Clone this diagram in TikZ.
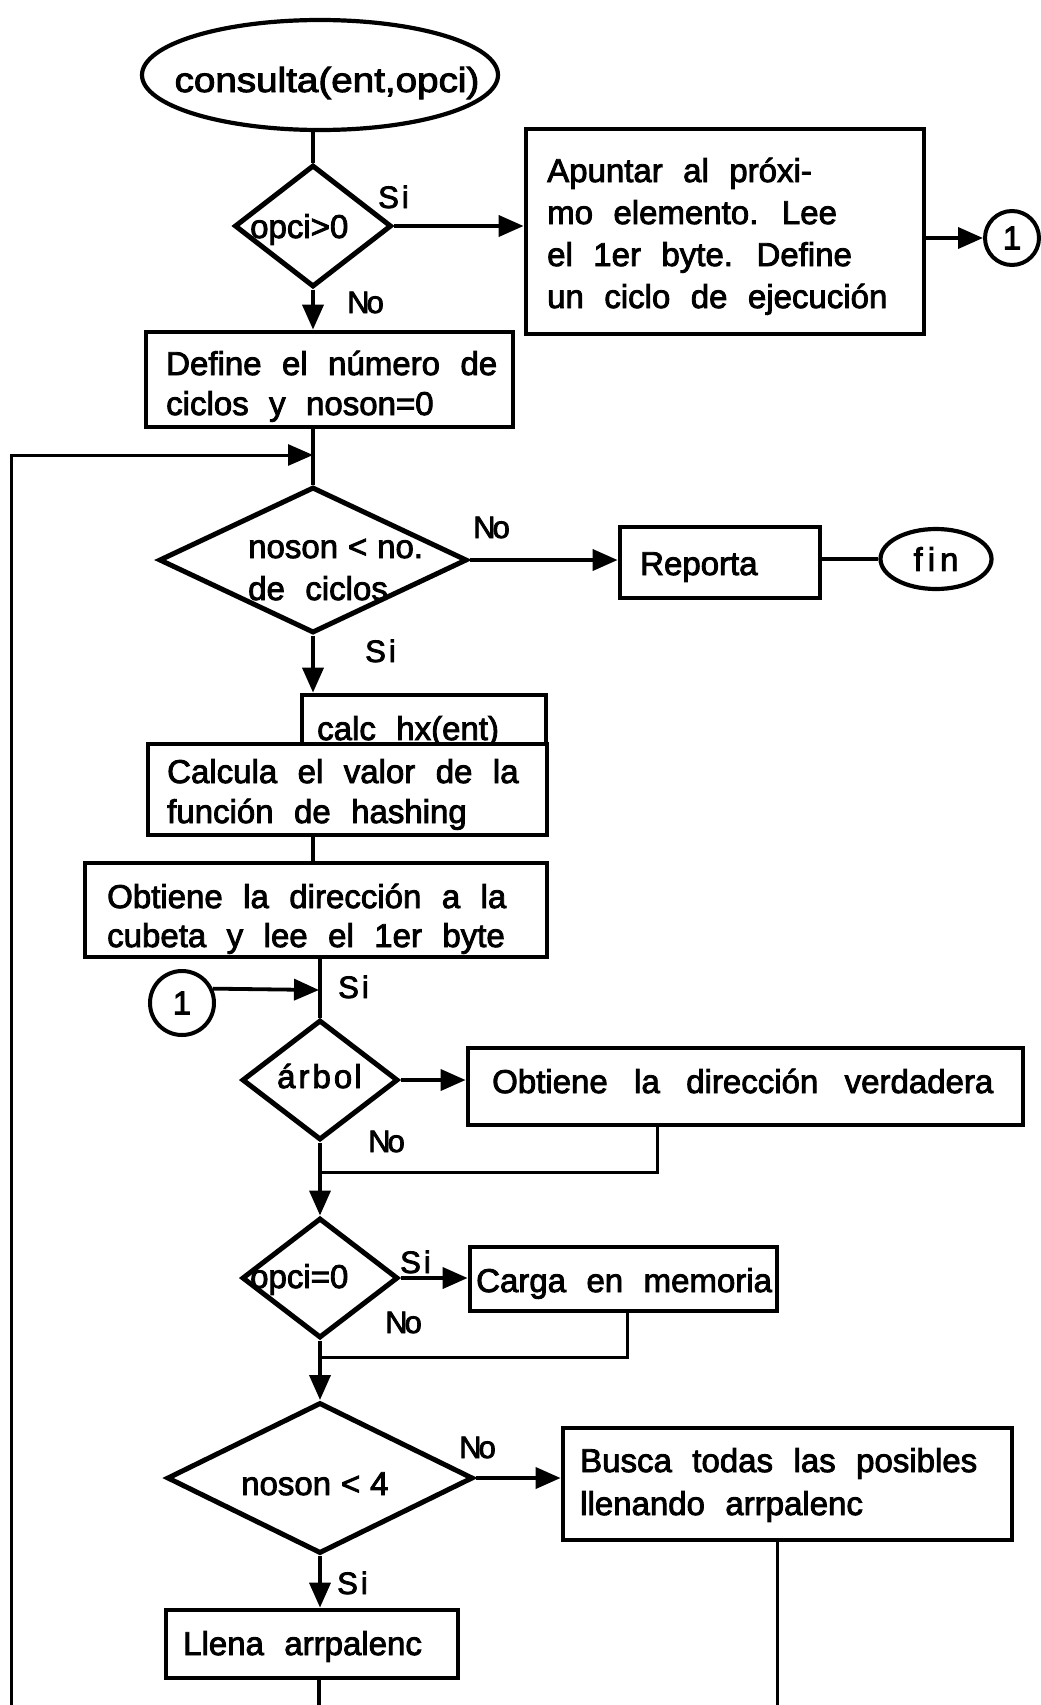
\documentclass[tikz,border=0pt]{standalone}
\usepackage{fontspec}
\usepackage{graphicx}
\setmainfont{Liberation Sans}[FakeBold=2.6]
\usetikzlibrary{arrows.meta,shapes.geometric}
% box text: wide word spacing as in the typed original
\newcommand\bxfont{\fontsize{33}{40}\selectfont\spaceskip=0.62em\relax}
\newcommand\lbfont{\fontsize{31}{31}\selectfont}
\newcommand\wide{\spaceskip=0.8em\relax}
\newcommand\tight{\spaceskip=0.3em\relax}
\begin{document}
\begin{tikzpicture}[x=1pt,y=-1pt,
  box/.style={draw, line width=4.8pt, fill=white, rectangle, inner sep=0pt},
  dia/.style={draw, line width=5pt, diamond, aspect=1, inner sep=0pt},
  oval/.style={draw, line width=4.2pt, ellipse, inner sep=0pt},
  circ/.style={draw, line width=4pt, circle, inner sep=0pt, font=\bxfont},
  txt/.style={anchor=base west, inner sep=0pt, font=\bxfont},
  lab/.style={anchor=base west, inner sep=0pt, font=\lbfont},
  conn/.style={draw, line width=3.8pt},
  thinconn/.style={draw, line width=3pt},
  arr/.style={conn, -{Triangle[length=25pt,width=21pt]}},
  thinarr/.style={thinconn, -{Triangle[length=25pt,width=21pt]}}
]
\fill[white] (0,0) rectangle (1041,1705);
\useasboundingbox (0,0) rectangle (1041,1705);

% ---- entry and first decision
\node[oval, minimum width=356pt, minimum height=110pt] (start) at (320,75) {};
\node[txt, anchor=base] (startT) at (327,92) {\scalebox{1.17}[1.05]{consulta(ent,opci)}};

\node[dia, minimum width=157pt, minimum height=122pt] (d1) at (313,226) {};
\node[txt] (d1T) at (250,238) {opci>0};

\node[box, minimum width=398pt, minimum height=205pt] (apuntar) at (725,231.5) {};
\node[txt] (ap1) at (547,182) {Apuntar al próxi-};
\node[txt] (ap2) at (547,224) {mo elemento. Lee};
\node[txt] (ap3) at (547,266) {el 1er byte. Define};
\node[txt] (ap4) at (547,308) {un ciclo de ejecución};

\node[circ, minimum size=54pt] (c1a) at (1012,238) {1};

\node[box, minimum width=367pt, minimum height=95pt] (define) at (329.5,379.5) {};
\node[txt] (df1) at (166,375) {Define el número de};
\node[txt] (df2) at (166,415) {ciclos y noson=0};

% ---- loop test
\node[dia, minimum width=308pt, minimum height=146pt] (d2) at (313,560) {};
\node[txt] (d2a) at (248,558) {\tight noson < no.};
\node[txt] (d2b) at (248,600) {de ciclos};

\node[box, minimum width=200pt, minimum height=71pt] (reporta) at (720,562.5) {};
\node[txt] (repT) at (640,575) {Reporta};
\node[oval, minimum width=111pt, minimum height=60pt, font=\bxfont] (fin) at (936,559) {f\kern5pt i\kern5pt n};

% ---- hashing
\node[box, minimum width=244pt, minimum height=72pt] (calc) at (424,731) {};
\node[txt] (calcT) at (317,740) {calc hx(ent)};
\node[box, minimum width=399pt, minimum height=91pt] (calcula) at (347.5,789.5) {};
\node[txt] (cl1) at (167,783) {Calcula el valor de la};
\node[txt] (cl2) at (167,823) {función de hashing};

\node[box, minimum width=462pt, minimum height=94pt] (obtiene) at (316,910) {};
\node[txt] (ob1) at (107,908) {Obtiene la dirección a la};
\node[txt] (ob2) at (107,947) {cubeta y lee el 1er byte};

\node[circ, minimum size=64pt] (c1b) at (182,1003) {1};

% ---- tree / load / count tests
\node[dia, minimum width=156pt, minimum height=120pt] (d3) at (320,1080) {};
\node[txt] (d3T) at (277,1088) {á\kern3pt r\kern3pt b\kern3pt o\kern2pt l};
\node[box, minimum width=555pt, minimum height=77pt] (obtv) at (745.5,1086.5) {};
\node[txt] (obtvT) at (492,1093) {\wide Obtiene la dirección verdadera};

\node[dia, minimum width=156pt, minimum height=120pt] (d4) at (320,1278) {};
\node[txt] (d4T) at (250,1288) {opci=0};
\node[box, minimum width=307pt, minimum height=64pt] (carga) at (623.5,1279) {};
\node[txt] (cargaT) at (476,1292) {Carga en memoria};

\node[dia, minimum width=306pt, minimum height=151pt] (d5) at (320,1478) {};
\node[txt] (d5T) at (241,1495) {\tight noson < 4};
\node[box, minimum width=449pt, minimum height=112pt] (busca) at (787.5,1484) {};
\node[txt] (bu1) at (580,1472) {Busca todas las posibles};
\node[txt] (bu2) at (580,1515) {llenando arrpalenc};
\node[box, minimum width=292pt, minimum height=68pt] (llena) at (312,1644) {};
\node[txt] (llT) at (183,1655) {Llena arrpalenc};

% ---- branch labels
\node[lab] (s1) at (378,208) {S\kern3pt i};
\node[lab] (n1) at (347,313) {N\kern-3pt o};
\node[lab] (n2) at (473,538) {N\kern-3pt o};
\node[lab] (s2) at (365,662) {S\kern3pt i};
\node[lab] (s3) at (338,998) {S\kern3pt i};
\node[lab] (n3) at (368,1152) {N\kern-3pt o};
\node[lab] (s4) at (400,1273) {S\kern3pt i};
\node[lab] (n4) at (385,1333) {N\kern-3pt o};
\node[lab] (n5) at (459,1458) {N\kern-3pt o};
\node[lab] (s5) at (337,1594) {S\kern3pt i};

% ---- junction points
\coordinate (lb) at (11,1712);
\coordinate (lt) at (11,455);
\coordinate (m0) at (313,455);
\coordinate (j1) at (319,990);
\coordinate (r1) at (657,1172);
\coordinate (m1) at (319,1172);
\coordinate (r2) at (627,1357);
\coordinate (m2) at (319,1357);
\coordinate (e1) at (777,1712);
\coordinate (e2) at (319,1712);

% ---- connectors
\draw[conn] (start.south -| d1.north) -- (d1.north);
\draw[arr] (d1.east) -- (apuntar.west |- d1.east);
\draw[arr] (apuntar.east |- c1a.west) -- (c1a.west);
\draw[arr] (d1.south) -- (define.north -| d1.south);
\draw[conn] (define.south -| d2.north) -- (d2.north);
\draw[thinarr] (lb) -- (lt) -- (m0);
\draw[arr] (d2.east) -- (reporta.west |- d2.east);
\draw[conn] (reporta.east |- fin.west) -- (fin.west);
\draw[arr] (d2.south) -- (calc.north -| d2.south);
\draw[conn] (calcula.south -| d2.south) -- (obtiene.north -| d2.south);
\draw[conn] (obtiene.south -| d3.north) -- (d3.north);
\draw[arr] (c1b.25) -- (j1);
\draw[arr] (d3.east) -- (obtv.west |- d3.east);
\draw[arr] (d3.south) -- (d4.north);
\draw[thinconn] (obtv.south -| r1) -- (r1) -- (m1);
\draw[arr] (d4.east) -- (carga.west |- d4.east);
\draw[arr] (d4.south) -- (d5.north);
\draw[thinconn] (carga.south -| r2) -- (r2) -- (m2);
\draw[arr] (d5.east) -- (busca.west |- d5.east);
\draw[arr] (d5.south) -- (llena.north -| d5.south);
\draw[thinconn] (busca.south -| e1) -- (e1);
\draw[conn] (llena.south -| e2) -- (e2);
\end{tikzpicture}
\end{document}
